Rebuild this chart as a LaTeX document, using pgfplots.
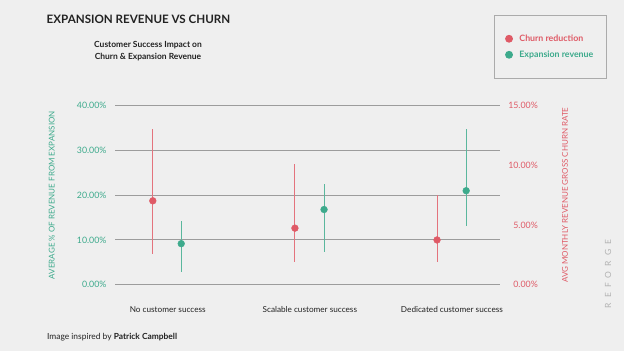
\documentclass[border=0pt]{standalone}
\usepackage{pgfplots}
\pgfplotsset{compat=1.18}
\usepackage{fontspec}
\setmainfont{Lato}
\definecolor{bg}{HTML}{EFEFEF}
\definecolor{cteal}{HTML}{3DAA8C}
\definecolor{cred}{HTML}{DF5A66}
\definecolor{gridc}{HTML}{9C9C9C}
\definecolor{txt}{HTML}{222222}
\begin{document}
\begin{tikzpicture}
\path[use as bounding box, fill=bg] (0bp,0bp) rectangle (624bp,351bp);
% title and subtitle
\node[anchor=west, inner sep=0, text=txt, font=\fontsize{11.6bp}{14bp}\selectfont\bfseries] at (46.5bp,332bp) {EXPANSION REVENUE VS CHURN};
\node[align=center, inner sep=0, text=txt, font=\fontsize{8.45bp}{11.4bp}\selectfont\bfseries] at (148bp,300bp) {Customer Success Impact on\\Churn \& Expansion Revenue};
% footer
\node[anchor=west, inner sep=0, text=txt, font=\fontsize{8.4bp}{9bp}\selectfont] at (47bp,14.3bp) {Image inspired by \textbf{Patrick Campbell}};
% watermark
\node[rotate=90, inner sep=0, text=black!30, font=\fontsize{8.5bp}{9bp}\selectfont] at (608bp,77bp) {R\hspace{5bp}E\hspace{5bp}F\hspace{5bp}O\hspace{5bp}R\hspace{5bp}G\hspace{5bp}E};

\begin{axis}[
  at={(115bp,66.3bp)}, anchor=south west,
  scale only axis, width=385bp, height=179bp,
  xmin=-0.371, xmax=2.338, ymin=0, ymax=40,
  clip=false,
  axis line style={draw=none},
  major tick length=0pt,
  xtick={0,1,2},
  xticklabels={No customer success, Scalable customer success, Dedicated customer success},
  x tick label style={font=\fontsize{8.2bp}{9bp}\selectfont, text=txt, anchor=center, inner sep=0pt, yshift=-24.6bp},
  ytick={0,10,20,30,40},
  yticklabels={0.00\%,10.00\%,20.00\%,30.00\%,40.00\%},
  y tick label style={font=\fontsize{8.8bp}{9bp}\selectfont, text=cteal, anchor=east, inner sep=0pt, xshift=-8.3bp},
  ymajorgrids,
  grid style={gridc, line width=1bp},
  ylabel={AVERAGE \% OF REVENUE FROM EXPANSION},
  every axis y label/.style={at={(rel axis cs:0,0.5)}, xshift=-63.3bp, rotate=90, anchor=center, text=cteal, font=\fontsize{8bp}{9bp}\selectfont},
]
\addplot[only marks, mark=*, mark size=3.4bp, color=cteal,
  error bars/.cd, y dir=both, y explicit, error mark=none,
  error bar style={line width=1bp, cteal!85}]
  coordinates {
  (0.095,9.17) += (0,5.08) -= (0,6.27)
  (1.1,16.8) += (0,5.7) -= (0,9.4)
  (2.1,21.0) += (0,13.8) -= (0,7.9)
  };
\end{axis}

\begin{axis}[
  at={(115bp,66.3bp)}, anchor=south west,
  scale only axis, width=385bp, height=179bp,
  xmin=-0.371, xmax=2.338, ymin=0, ymax=15,
  clip=false,
  axis y line*=right,
  axis x line=none,
  axis line style={draw=none},
  major tick length=0pt,
  ytick={0,5,10,15},
  yticklabels={0.00\%,5.00\%,10.00\%,15.00\%},
  y tick label style={font=\fontsize{8.8bp}{9bp}\selectfont, text=cred, anchor=east, inner sep=0pt, xshift=38bp},
  ylabel={AVG MONTHLY REVENUE GROSS CHURN RATE},
  every axis y label/.style={at={(rel axis cs:1,0.5)}, xshift=65bp, rotate=90, anchor=center, text=cred, font=\fontsize{8bp}{9bp}\selectfont},
  legend style={at={(0.984,1.507)}, anchor=north west, draw=gridc!85, line width=1bp, fill=bg,
    inner xsep=11.3bp, inner ysep=17.3bp, row sep=4bp, column sep=5bp,
    font=\fontsize{8.8bp}{10bp}\selectfont\bfseries},
  legend cell align=left,
  legend image code/.code={\draw[mark repeat=2,mark phase=2,#1] plot coordinates {(0bp,0bp) (4.5bp,0bp) (9bp,0bp)};},
]
\addplot[only marks, mark=*, mark size=3.4bp, color=cred,
  error bars/.cd, y dir=both, y explicit, error mark=none,
  error bar style={line width=1bp, cred!85}]
  coordinates {
  (-0.105,7.03) += (0,6.04) -= (0,4.48)
  (0.895,4.74) += (0,5.36) -= (0,2.81)
  (1.895,3.75) += (0,3.75) -= (0,1.82)
  };
\addlegendentry{\textcolor{cred}{Churn reduction}}
\addlegendimage{only marks, mark=*, mark size=3.4bp, color=cteal}
\addlegendentry{\textcolor{cteal}{Expansion revenue}}
\end{axis}
\end{tikzpicture}
\end{document}
